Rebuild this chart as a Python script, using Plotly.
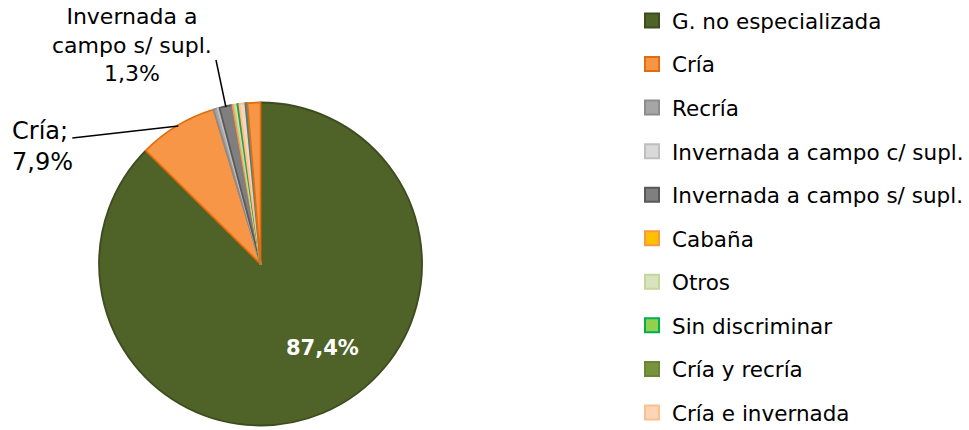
import plotly.graph_objects as go

# ---- data ----
categories = ["G. no especializada", "Cría", "Recría", "Invernada a campo c/ supl.",
              "Invernada a campo s/ supl.", "Cabaña", "Otros", "Sin discriminar",
              "Cría y recría", "Cría e invernada", "Invernada a corral", "Tambo"]
values = [87.4, 7.9, 0.4, 0.2, 1.3, 0.2, 0.3, 0.1, 0.1, 0.6, 0.2, 1.3]
legend_count = 10  # only the first ten categories appear in the legend

fill_colors = ["#4F6228", "#F79646", "#A6A6A6", "#D9D9D9", "#7F7F7F", "#FFC000",
               "#D7E4BD", "#92D050", "#77933C", "#FCD5B5", "#4BACC6", "#F79646"]
line_colors = ["#3D4C1E", "#E46C0A", "#8C8C8C", "#BFBFBF", "#595959", "#F79646",
               "#C3D69B", "#00B050", "#6A8535", "#FAC090", "#31859C", "#E46C0A"]

W, H = 969, 430
FONT = "DejaVu Sans"

def px(x):
    return x / W

def py(y):
    return 1 - y / H

fig = go.Figure()

fig.add_trace(go.Pie(
    labels=categories, values=values, sort=False, direction="clockwise", rotation=0,
    marker=dict(colors=fill_colors, line=dict(color=line_colors, width=1.8)),
    textinfo="none", showlegend=False, hoverinfo="label+percent",
    domain=dict(x=[px(100), px(426)], y=[py(427), py(101)]),
))

# legend entries (one group per category for the wide row spacing)
for i in range(legend_count):
    fig.add_trace(go.Scatter(
        x=[None], y=[None], mode="markers", name=categories[i],
        legendgroup=f"g{i}",
        marker=dict(symbol="square", size=14, color=fill_colors[i],
                    line=dict(color=line_colors[i], width=2)),
        hoverinfo="skip",
    ))

fig.update_layout(
    width=W, height=H,
    margin=dict(l=0, r=0, t=0, b=0),
    paper_bgcolor="white", plot_bgcolor="white",
    font=dict(family=FONT, color="#000000"),
    xaxis=dict(visible=False), yaxis=dict(visible=False),
    legend=dict(x=px(638), y=py(7), xanchor="left", yanchor="top",
                font=dict(family=FONT, size=21.5, color="#000000"),
                tracegroupgap=12.6, bgcolor="rgba(0,0,0,0)"),
    annotations=[
        dict(text="<b>87,4%</b>", x=px(326), y=py(348), xref="paper", yref="paper",
             xanchor="center", yanchor="middle",
             showarrow=False, font=dict(family=FONT, size=21, color="white")),
        dict(text="Cría;<br>7,9%", x=px(10), y=py(146), xref="paper", yref="paper",
             xanchor="left", yanchor="middle", align="left", showarrow=False,
             font=dict(family=FONT, size=24, color="#000000")),
        dict(text="Invernada a<br>campo s/ supl.<br>1,3%", x=px(133), y=py(45),
             xref="paper", yref="paper", xanchor="center", yanchor="middle",
             align="center", showarrow=False,
             font=dict(family=FONT, size=22, color="#000000")),
    ],
    shapes=[
        dict(type="line", xref="paper", yref="paper", x0=px(73), y0=py(138),
             x1=px(180), y1=py(126), line=dict(color="black", width=1.5)),
        dict(type="line", xref="paper", yref="paper", x0=px(218), y0=py(60),
             x1=px(228), y1=py(107), line=dict(color="black", width=1.5)),
    ],
)

fig.write_html("out.html", config={"displayModeBar": False},
               post_script="document.body.style.margin='0px';")
